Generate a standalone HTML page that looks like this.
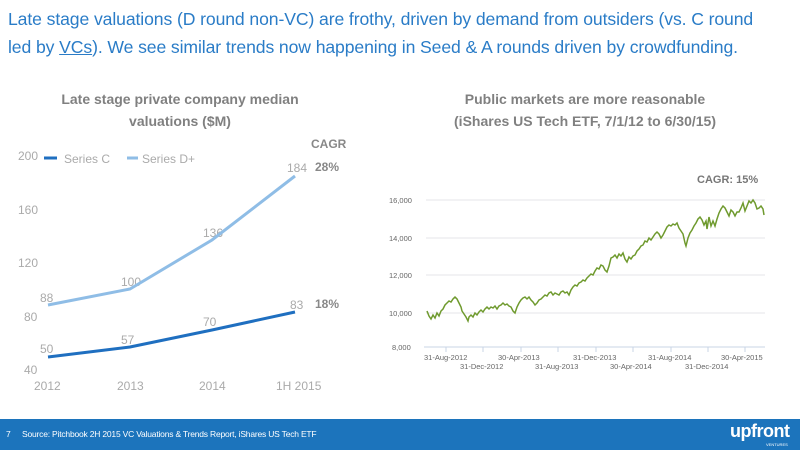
<!DOCTYPE html>
<html><head><meta charset="utf-8"><style>
body{margin:0;width:800px;height:450px;overflow:hidden;background:#fff;font-family:"Liberation Sans",sans-serif;position:relative}
.t{position:absolute;white-space:nowrap}
</style></head><body>
<div class="t" style="left:8px;top:5px;font-size:17.6px;color:#2a7cc7;line-height:28px;letter-spacing:-0.1px">Late stage valuations (D round non-VC) are frothy, driven by demand from outsiders (vs. C round<br>led by <span style="text-decoration:underline">VCs</span>). We see similar trends now happening in Seed &amp; A rounds driven by crowdfunding.</div>
<div class="t" style="left:60px;top:88px;width:240px;text-align:center;font-size:14px;font-weight:bold;color:#808080;line-height:22px;white-space:normal">Late stage private company median valuations ($M)</div>
<div class="t" style="left:400px;top:88px;width:370px;text-align:center;font-size:14px;font-weight:bold;color:#808080;line-height:22px">Public markets are more reasonable<br>(iShares US Tech ETF, 7/1/12 to 6/30/15)</div>
<svg width="800" height="450" style="position:absolute;left:0;top:0" font-family="Liberation Sans, sans-serif">
<g fill="#aaa" font-size="12">
<text x="18" y="160">200</text><text x="18" y="214">160</text><text x="18" y="267">120</text><text x="24" y="321">80</text><text x="24" y="374">40</text>
<text x="34" y="390">2012</text><text x="117" y="390">2013</text><text x="199" y="390">2014</text><text x="276" y="390">1H 2015</text>
<text x="40" y="302">88</text><text x="121" y="286">100</text><text x="203" y="237">136</text><text x="287" y="172">184</text>
<text x="40" y="353">50</text><text x="121" y="344">57</text><text x="203" y="326">70</text><text x="290" y="309">83</text>
<text x="64" y="163">Series C</text><text x="142" y="163">Series D+</text>
</g>
<g fill="#888" font-size="12" font-weight="bold"><text x="311" y="148">CAGR</text><text x="315" y="171">28%</text><text x="315" y="308">18%</text></g>
<line x1="44" y1="158" x2="57" y2="158" stroke="#1f6fc0" stroke-width="3"/>
<line x1="127" y1="158" x2="138" y2="158" stroke="#8fbde6" stroke-width="3"/>
<polyline points="48,305 130,289 212,240 295,176" fill="none" stroke="#8fbde6" stroke-width="3"/>
<polyline points="48,357 130,347 212,330 295,312" fill="none" stroke="#1f6fc0" stroke-width="3"/>
<g stroke="#e6e6ea" stroke-width="1"><line x1="426" y1="200" x2="765" y2="200"/><line x1="426" y1="238" x2="765" y2="238"/><line x1="426" y1="275" x2="765" y2="275"/><line x1="426" y1="313" x2="765" y2="313"/></g>
<line x1="424" y1="347" x2="765" y2="347" stroke="#c8d4e6"/>
<g stroke="#c8d4e6"><line x1="446" y1="347" x2="446" y2="352"/><line x1="483" y1="347" x2="483" y2="352"/><line x1="521" y1="347" x2="521" y2="352"/><line x1="558" y1="347" x2="558" y2="352"/><line x1="596" y1="347" x2="596" y2="352"/><line x1="633" y1="347" x2="633" y2="352"/><line x1="671" y1="347" x2="671" y2="352"/><line x1="708" y1="347" x2="708" y2="352"/><line x1="745" y1="347" x2="745" y2="352"/></g>
<g fill="#666" font-size="7.5"><text x="389" y="203">16,000</text><text x="389" y="241">14,000</text><text x="389" y="278">12,000</text><text x="389" y="316">10,000</text><text x="392" y="350">8,000</text>
<text x="424" y="360">31-Aug-2012</text><text x="498" y="360">30-Apr-2013</text><text x="573" y="360">31-Dec-2013</text><text x="648" y="360">31-Aug-2014</text><text x="721" y="360">30-Apr-2015</text>
<text x="460" y="369">31-Dec-2012</text><text x="535" y="369">31-Aug-2013</text><text x="610" y="369">30-Apr-2014</text><text x="685" y="369">31-Dec-2014</text></g>
<text x="697" y="183" fill="#777" font-size="11" font-weight="bold">CAGR: 15%</text>
<polyline fill="none" stroke="#6f9a2e" stroke-width="1.5" points="427,311 429,316 431,319 433,315 435,318 437,313 439,316 441,311 443,309 445,305 447,303 449,301 451,302 453,299 455,297 457,299 459,303 461,307 462,311 464,314 466,317 468,321 469,317 471,315 473,317 475,313 477,315 479,312 481,310 483,312 485,309 487,307 489,309 491,307 493,308 495,306 497,309 499,306 501,305 503,303 505,305 507,304 509,306 511,307 513,311 515,313 517,307 519,303 521,300 523,298 525,297 527,299 529,297 531,300 533,302 535,305 537,303 539,300 541,299 543,297 545,295 547,296 549,293 551,292 553,295 555,293 557,294 559,295 561,292 563,291 565,293 567,292 569,295 571,290 573,287 575,285 577,286 579,283 581,282 583,280 585,281 587,278 589,276 591,274 593,275 595,271 597,268 599,269 601,265 603,266 605,270 607,272 609,266 611,258 613,257 615,255 617,258 619,254 621,256 623,253 625,259 627,262 629,257 631,259 633,256 635,255 637,251 639,249 641,246 643,245 645,241 647,242 649,238 651,240 653,237 655,234 657,232 659,234 661,238 663,235 665,231 667,227 669,225 671,226 673,224 675,225 677,223 679,228 681,231 683,234 685,243 686,246 688,238 690,233 692,230 694,226 696,223 698,219 700,217 702,220 704,225 706,221 707,229 709,217 711,226 713,221 715,226 717,219 719,213 721,209 723,206 725,208 727,212 729,216 731,210 733,212 735,216 737,212 739,212 741,208 743,203 745,211 747,206 749,201 751,203 753,200 755,203 757,209 759,208 761,206 763,209 764,215"/>
</svg>
<div style="position:absolute;left:0;top:419px;width:800px;height:31px;background:#1c74bc"></div>
<div class="t" style="left:6px;top:429px;font-size:8.5px;color:#fff">7</div>
<div class="t" style="left:22px;top:429px;font-size:8.5px;color:#fff;letter-spacing:-0.2px">Source: Pitchbook 2H 2015 VC Valuations &amp; Trends Report, iShares US Tech ETF</div>
<div class="t" style="left:730px;top:421px;font-size:18px;font-weight:bold;color:#fff;letter-spacing:-0.5px">upfront</div>
<div class="t" style="left:766px;top:442px;font-size:4px;color:#fff">VENTURES</div>
</body></html>
